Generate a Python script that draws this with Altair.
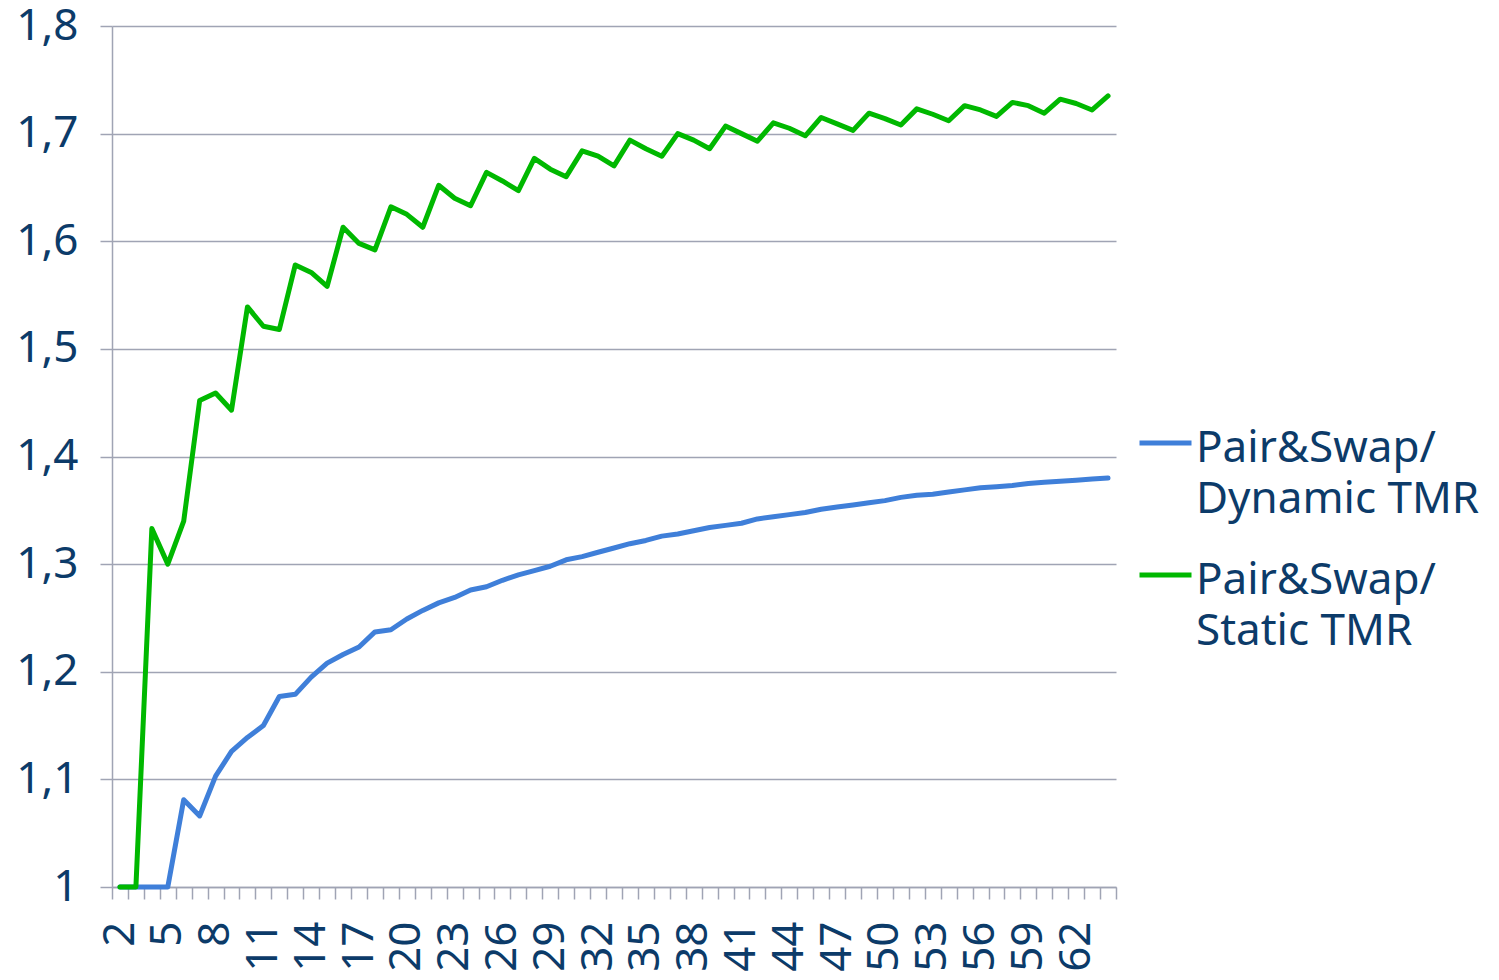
import altair as alt
import pandas as pd

# Network size n (categories on the x axis)
n_values = list(range(2, 65))

# Ratio Pair&Swap / Dynamic TMR
dynamic_tmr = [
    1.000, 1.000, 1.000, 1.000, 1.081, 1.066, 1.103, 1.126, 1.139, 1.150,
    1.177, 1.179, 1.195, 1.208, 1.216, 1.223, 1.237, 1.239, 1.249, 1.257,
    1.264, 1.269, 1.276, 1.279, 1.285, 1.290, 1.294, 1.298, 1.304, 1.307,
    1.311, 1.315, 1.319, 1.322, 1.326, 1.328, 1.331, 1.334, 1.336, 1.338,
    1.342, 1.344, 1.346, 1.348, 1.351, 1.353, 1.355, 1.357, 1.359, 1.362,
    1.364, 1.365, 1.367, 1.369, 1.371, 1.372, 1.373, 1.375, 1.376, 1.377,
    1.378, 1.379, 1.380,
]

# Ratio Pair&Swap / Static TMR
static_tmr = [
    1.000, 1.000, 1.333, 1.300, 1.340, 1.452, 1.459, 1.443, 1.539, 1.521,
    1.518, 1.578, 1.571, 1.558, 1.613, 1.598, 1.592, 1.632, 1.625, 1.613,
    1.652, 1.640, 1.633, 1.664, 1.656, 1.647, 1.677, 1.667, 1.660, 1.684,
    1.679, 1.670, 1.694, 1.686, 1.679, 1.700, 1.694, 1.686, 1.707, 1.700,
    1.693, 1.710, 1.705, 1.698, 1.715, 1.709, 1.703, 1.719, 1.714, 1.708,
    1.723, 1.718, 1.712, 1.726, 1.722, 1.716, 1.729, 1.726, 1.719, 1.732,
    1.728, 1.722, 1.735,
]

series_names = ["Pair&Swap/Dynamic TMR", "Pair&Swap/Static TMR"]
series_colors = ["#3f7fd9", "#00b800"]

y_ticks = [1.0, 1.1, 1.2, 1.3, 1.4, 1.5, 1.6, 1.7, 1.8]
x_label_values = list(range(2, 63, 3))
# tick marks sit on the boundaries between categories
x_tick_edges = [n - 0.5 for n in n_values] + [n_values[-1] + 0.5]

rows = [{"n": n, "ratio": v, "series": series_names[0]} for n, v in zip(n_values, dynamic_tmr)]
rows += [{"n": n, "ratio": v, "series": series_names[1]} for n, v in zip(n_values, static_tmr)]
df = pd.DataFrame(rows)

ink = "#0c3b69"
rule_grey = "#a0a4b4"
font = "Noto Sans"

label_list = "[" + ",".join(str(v) for v in x_label_values) + "]"
x_label_expr = (
    f"indexof({label_list}, datum.value + 0.5) >= 0 ? format(datum.value + 0.5, 'd') : ''"
)

x_axis = alt.Axis(
    values=x_tick_edges,
    labelExpr=x_label_expr,
    title=None,
    grid=False,
    labelAngle=270,
    labelOffset=8,
    labelPadding=22,
    labelFontSize=44,
    labelFont=font,
    labelColor=ink,
    labelOverlap=False,
    labelFlush=False,
    labelBound=False,
    tickSize=12,
    tickWidth=1.5,
    tickColor=rule_grey,
    domainColor=rule_grey,
    domainWidth=1.5,
)

y_axis = alt.Axis(
    values=y_ticks,
    labelExpr="replace(format(datum.value, '.1~f'), '.', ',')",
    title=None,
    grid=True,
    gridColor=rule_grey,
    gridWidth=1.5,
    labelPadding=22,
    labelFontSize=44,
    labelFont=font,
    labelColor=ink,
    labelOverlap=False,
    labelFlush=False,
    tickSize=12,
    tickWidth=1.5,
    tickColor=rule_grey,
    domainColor=rule_grey,
    domainWidth=1.5,
)

legend = alt.Legend(
    title=None,
    orient="none",
    legendX=1025,
    legendY=407,
    padding=0,
    symbolType="M-1,-0.71L1,-0.71",
    symbolSize=2704,
    symbolStrokeWidth=5,
    labelFontSize=44,
    labelFont=font,
    labelColor=ink,
    labelBaseline="alphabetic",
    labelOffset=2,
    labelLimit=600,
    rowPadding=36,
    labelExpr=(
        "[substring(datum.label, 0, indexof(datum.label, '/') + 1), "
        "substring(datum.label, indexof(datum.label, '/') + 1)]"
    ),
)

chart = (
    alt.Chart(df)
    .mark_line(strokeWidth=5, strokeCap="round", strokeJoin="round")
    .encode(
        x=alt.X(
            "n:Q",
            scale=alt.Scale(domain=[x_tick_edges[0], x_tick_edges[-1]], nice=False, zero=False),
            axis=x_axis,
        ),
        y=alt.Y(
            "ratio:Q",
            scale=alt.Scale(domain=[y_ticks[0], y_ticks[-1]], nice=False, zero=False),
            axis=y_axis,
        ),
        color=alt.Color(
            "series:N",
            scale=alt.Scale(domain=series_names, range=series_colors),
            legend=legend,
        ),
    )
    .properties(
        width=1004,
        height=861,
        padding={"left": 15, "top": 4, "right": 0, "bottom": 0},
        background="white",
    )
    .configure(style={"guide-label": {"lineHeight": 51}})
    .configure_view(stroke=None)
)

chart.save("out.html", embed_options={"renderer": "svg", "actions": False})
